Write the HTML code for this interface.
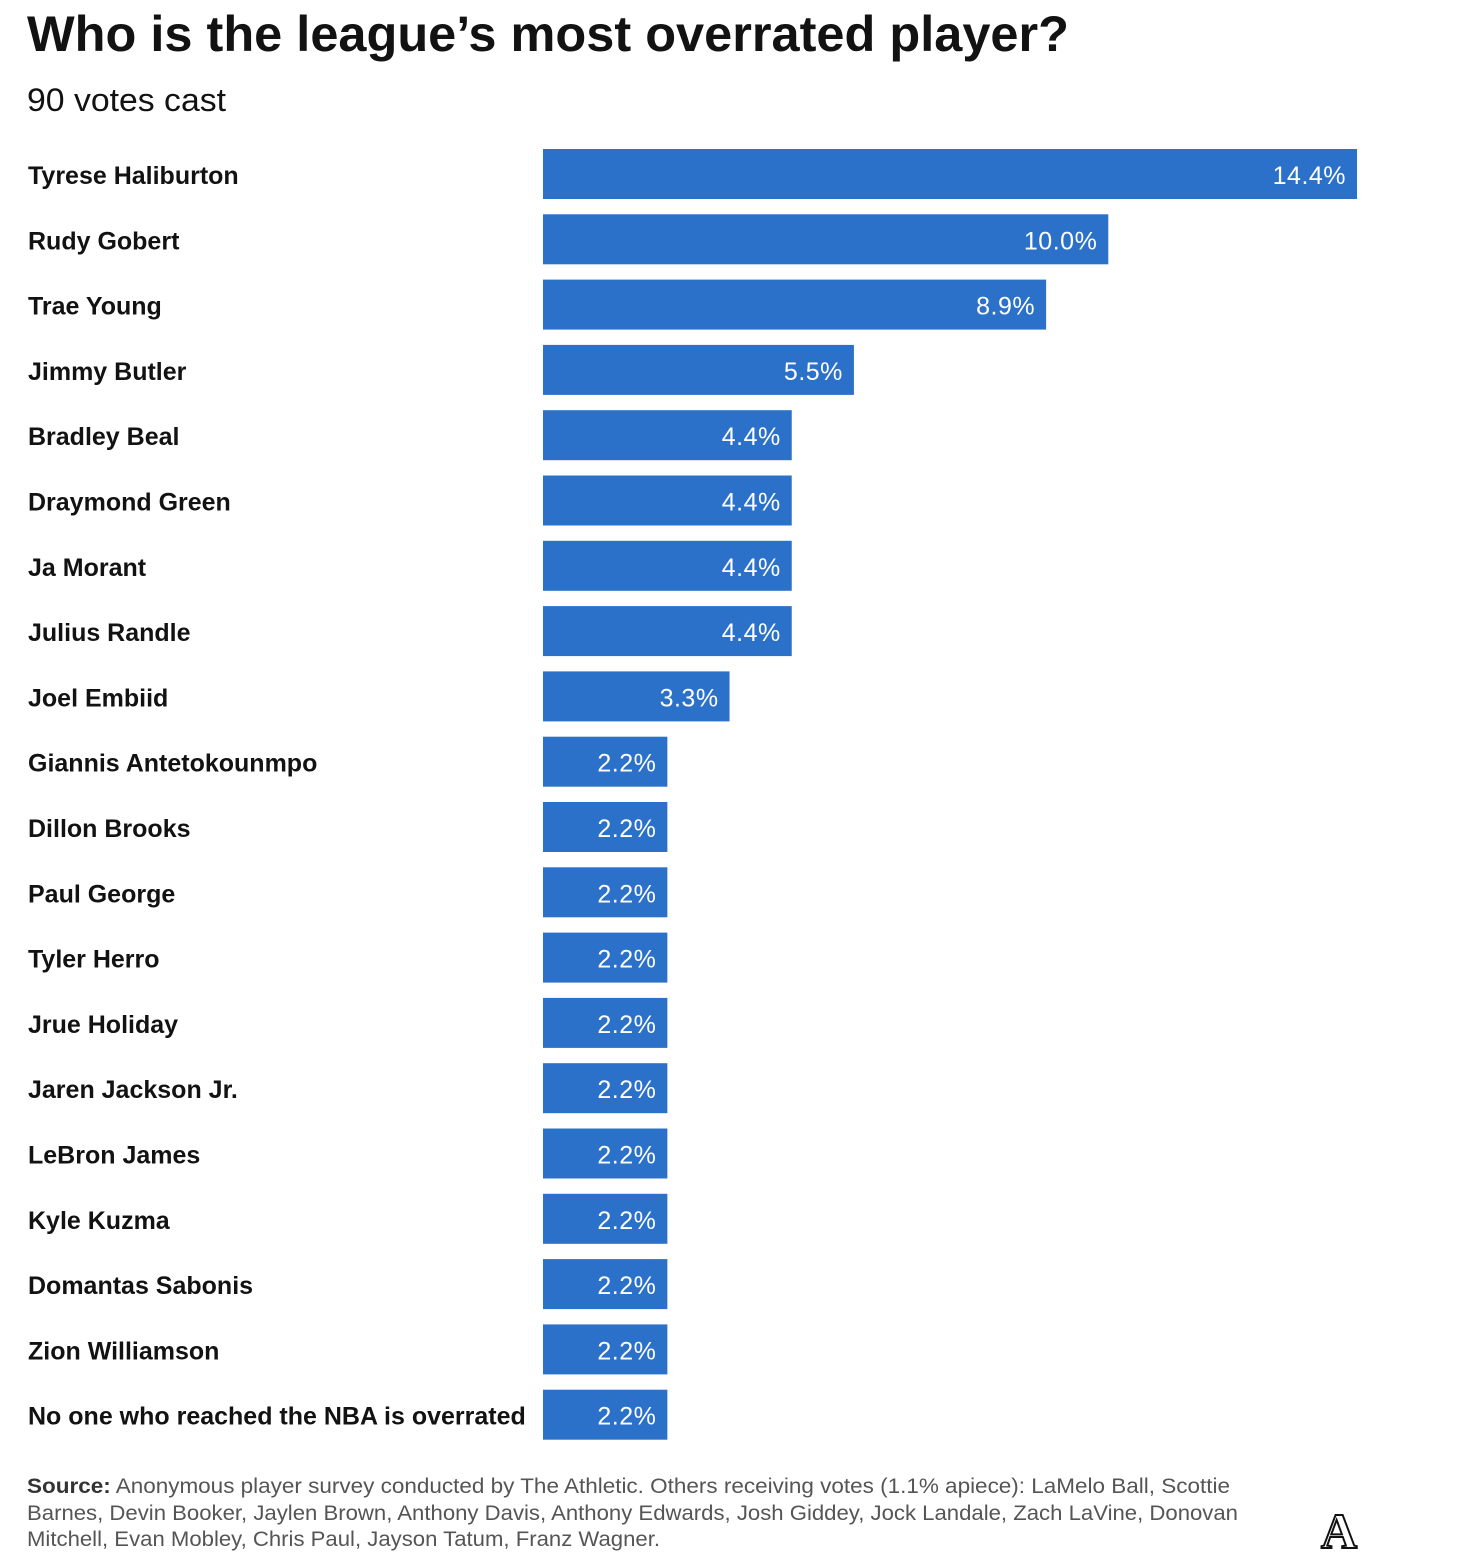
<!DOCTYPE html>
<html><head><meta charset="utf-8"><style>
body{margin:0;background:#fff}
svg{display:block;font-family:"Liberation Sans",sans-serif}
</style></head><body>
<svg id="chart" width="1460" height="1563" viewBox="0 0 1460 1563">
<text x="27" y="51" font-size="50" font-weight="bold" fill="#121212" textLength="1042" lengthAdjust="spacingAndGlyphs">Who is the league’s most overrated player?</text>
<text x="27" y="111" font-size="32" fill="#121212" textLength="199" lengthAdjust="spacingAndGlyphs">90 votes cast</text>
<g id="bars"></g>
<g font-size="21" fill="#555">
<text x="27" y="1493" textLength="1203" lengthAdjust="spacingAndGlyphs"><tspan font-weight="bold" fill="#333">Source:</tspan> Anonymous player survey conducted by The Athletic. Others receiving votes (1.1% apiece): LaMelo Ball, Scottie</text>
<text x="27" y="1520" textLength="1211" lengthAdjust="spacingAndGlyphs">Barnes, Devin Booker, Jaylen Brown, Anthony Davis, Anthony Edwards, Josh Giddey, Jock Landale, Zach LaVine, Donovan</text>
<text x="27" y="1546" textLength="633" lengthAdjust="spacingAndGlyphs">Mitchell, Evan Mobley, Chris Paul, Jayson Tatum, Franz Wagner.</text>
</g>
<text x="1339" y="1548" font-size="50" font-family="Liberation Serif,serif" font-weight="bold" text-anchor="middle" fill="#fff" stroke="#111" stroke-width="2">A</text>
</svg>
<script>
const categories=["Tyrese Haliburton","Rudy Gobert","Trae Young","Jimmy Butler","Bradley Beal","Draymond Green","Ja Morant","Julius Randle","Joel Embiid","Giannis Antetokounmpo","Dillon Brooks","Paul George","Tyler Herro","Jrue Holiday","Jaren Jackson Jr.","LeBron James","Kyle Kuzma","Domantas Sabonis","Zion Williamson","No one who reached the NBA is overrated"];
const values=[14.4,10.0,8.9,5.5,4.4,4.4,4.4,4.4,3.3,2.2,2.2,2.2,2.2,2.2,2.2,2.2,2.2,2.2,2.2,2.2];
const valueLabels=["14.4%","10.0%","8.9%","5.5%","4.4%","4.4%","4.4%","4.4%","3.3%","2.2%","2.2%","2.2%","2.2%","2.2%","2.2%","2.2%","2.2%","2.2%","2.2%","2.2%"];
const NS="http://www.w3.org/2000/svg";
const x0=543, pxPer=56.53, top0=149, step=65.3, bh=50;
const xScale=v=>v*pxPer;
const yScale=i=>top0+i*step;
const g=document.getElementById('bars');
categories.forEach((c,i)=>{
  const y=yScale(i);
  const t=document.createElementNS(NS,'text');
  
  
  t.setAttribute('x',28);t.setAttribute('y',y+35);
  t.setAttribute('font-size','25');t.setAttribute('font-weight','bold');t.setAttribute('fill','#121212');
  t.textContent=c;g.appendChild(t);
  const r=document.createElementNS(NS,'rect');
  
  
  const w=xScale(values[i]);
  r.setAttribute('x',x0);r.setAttribute('y',y);r.setAttribute('width',w);r.setAttribute('height',bh);
  r.setAttribute('fill','#2b71c9');g.appendChild(r);
  const v=document.createElementNS(NS,'text');
  
  
  v.setAttribute('x',x0+w-11);v.setAttribute('y',y+35);
  v.setAttribute('font-size','25');v.setAttribute('fill','#fff');v.setAttribute('text-anchor','end');
  v.setAttribute('letter-spacing','0.5');
  v.textContent=valueLabels[i];g.appendChild(v);
});
</script>
</body></html>
